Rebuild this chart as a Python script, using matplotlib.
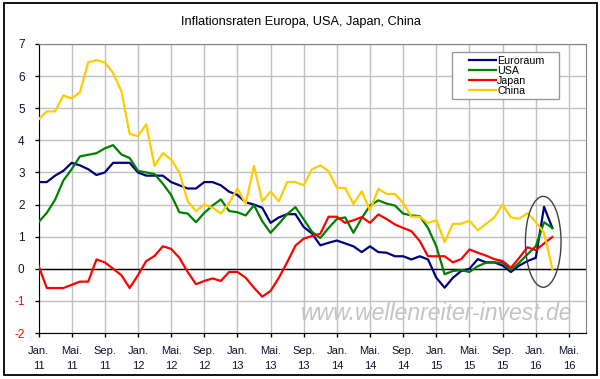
import numpy as np
import matplotlib
matplotlib.use('Agg')
import matplotlib.pyplot as plt
from matplotlib.patches import Ellipse, Rectangle

plt.rcParams['font.family'] = ['Liberation Sans', 'DejaVu Sans']

# monthly values, first point sits on the "Jan. 11" tick
euro = [2.7, 2.7, 2.9, 3.05, 3.3, 3.22, 3.1, 2.92, 3.0, 3.3, 3.3, 3.3,
        3.0, 2.9, 2.9, 2.9, 2.7, 2.6, 2.5, 2.5, 2.7, 2.7, 2.6, 2.4,
        2.3, 2.07, 2.0, 1.9, 1.43, 1.6, 1.7, 1.7, 1.3, 1.1, 0.73, 0.81,
        0.88, 0.79, 0.7, 0.52, 0.7, 0.52, 0.5, 0.39, 0.39, 0.29, 0.39, 0.29,
        -0.28, -0.59, -0.28, -0.07, 0.0, 0.3, 0.2, 0.2, 0.1, -0.1, 0.1, 0.24,
        0.34, 1.93, 1.27]
usa = [1.45, 1.74, 2.15, 2.75, 3.1, 3.5, 3.55, 3.6, 3.75, 3.85, 3.56, 3.45,
       3.05, 3.0, 2.95, 2.65, 2.3, 1.76, 1.72, 1.45, 1.74, 1.97, 2.16, 1.8,
       1.76, 1.66, 1.98, 1.48, 1.12, 1.4, 1.7, 1.92, 1.54, 1.15, 0.96, 1.27,
       1.55, 1.6, 1.12, 1.58, 1.97, 2.13, 2.03, 1.97, 1.72, 1.66, 1.64, 1.27,
       0.7, -0.17, -0.07, -0.04, -0.1, 0.08, 0.19, 0.2, 0.19, -0.04, 0.19, 0.45,
       0.7, 1.45, 1.27]
japan = [0.1, -0.6, -0.6, -0.6, -0.5, -0.4, -0.4, 0.29, 0.2, 0.0, -0.2, -0.6,
         -0.2, 0.24, 0.4, 0.7, 0.62, 0.34, -0.1, -0.48, -0.38, -0.3, -0.38, -0.1,
         -0.1, -0.28, -0.59, -0.87, -0.69, -0.28, 0.2, 0.72, 0.94, 1.02, 1.09, 1.62,
         1.62, 1.43, 1.51, 1.61, 1.43, 1.69, 1.55, 1.38, 1.27, 1.17, 0.86, 0.39,
         0.39, 0.39, 0.2, 0.3, 0.6, 0.5, 0.41, 0.3, 0.24, 0.03, 0.34, 0.67,
         0.58, 0.79, 0.99]
china = [4.65, 4.9, 4.9, 5.4, 5.3, 5.5, 6.43, 6.5, 6.43, 6.1, 5.53, 4.2,
         4.13, 4.5, 3.2, 3.6, 3.4, 3.0, 2.1, 1.8, 2.0, 1.9, 1.72, 2.05,
         2.5, 2.03, 3.2, 2.1, 2.4, 2.1, 2.7, 2.7, 2.6, 3.1, 3.22, 3.04,
         2.52, 2.52, 2.02, 2.41, 1.82, 2.49, 2.33, 2.33, 2.05, 1.62, 1.62, 1.43,
         1.51, 0.83, 1.4, 1.4, 1.5, 1.2, 1.4, 1.6, 2.0, 1.6, 1.56, 1.73,
         1.46, 1.12, 0.0]

series = [('Euroraum', euro, '#000080'),
          ('USA', usa, '#008000'),
          ('Japan', japan, '#ff0000'),
          ('China', china, '#ffcc00')]

month_names = ['Jan.', 'Mai.', 'Sep.']
years = ['11', '12', '13', '14', '15', '16']
tick_labels = [f'{m}\n{y}' for y in years for m in month_names][:17]

months = np.arange(len(euro))

fig = plt.figure(figsize=(6, 3.79), dpi=100)
ax = fig.add_axes([38.5/600, 1-333/379, 547/600, 289/379])

for name, vals, col in series:
    ax.plot(months, vals, color=col, lw=1.6, label=name, zorder=3)

ax.axhline(0, color='black', lw=1, zorder=2)

ax.set_xlim(0, 66)
ax.set_ylim(-2, 7)
ax.set_xticks(np.arange(0, 65, 4))
ax.set_xticklabels(tick_labels, fontsize=8, linespacing=1.65)
ax.set_yticks(range(-2, 8))
ax.set_yticklabels([str(v) for v in range(-2, 8)], fontsize=8.5)
for lab, v in zip(ax.get_yticklabels(), range(-2, 8)):
    lab.set_color('#ff0000' if v < 0 else '#101030')
for lab in ax.get_xticklabels():
    lab.set_color('#101030')

ax.grid(color='#c0c0c0', lw=1, zorder=0)
ax.set_axisbelow(True)
ax.tick_params(direction='out', length=3, width=1, color='black')
ax.tick_params(axis='y', pad=7)
ax.tick_params(axis='x', pad=6)
ax.spines['left'].set_color('black')
ax.spines['bottom'].set_color('black')
ax.spines['top'].set_color('#808080')
ax.spines['right'].set_color('#808080')

# circle around the last months
ax.add_patch(Ellipse((60.9, 0.84), 4.3, 2.83, fill=False, ec='#404040', lw=1, zorder=4))

ax.text(48.0, -1.38, 'www.wellenreiter-invest.de', fontsize=16.6, style='italic',
        color='#c4c4c4', ha='center', va='center', zorder=1)

# legend box drawn by hand, entries without frame
ax.add_patch(Rectangle((0.7554, 0.8097), 0.1967, 0.1616, transform=ax.transAxes,
                       fc='white', ec='#999999', lw=1, zorder=5))
leg = ax.legend(loc='upper left', bbox_to_anchor=(0.787, 0.959), fontsize=7.7,
                handlelength=2.5, handletextpad=0.15, labelspacing=0.0,
                borderpad=0, borderaxespad=0, frameon=False)
leg.set_zorder(6)

fig.text(0.502, 0.942, 'Inflationsraten Europa, USA, Japan, China', fontsize=9.2,
         ha='center', va='center')

fig.patches.append(Rectangle((4/600, 1-374.5/379), 592.7/600, 371.2/379,
                             transform=fig.transFigure, fill=False, ec='black', lw=1.3))

fig.savefig('out.png', dpi=100)
